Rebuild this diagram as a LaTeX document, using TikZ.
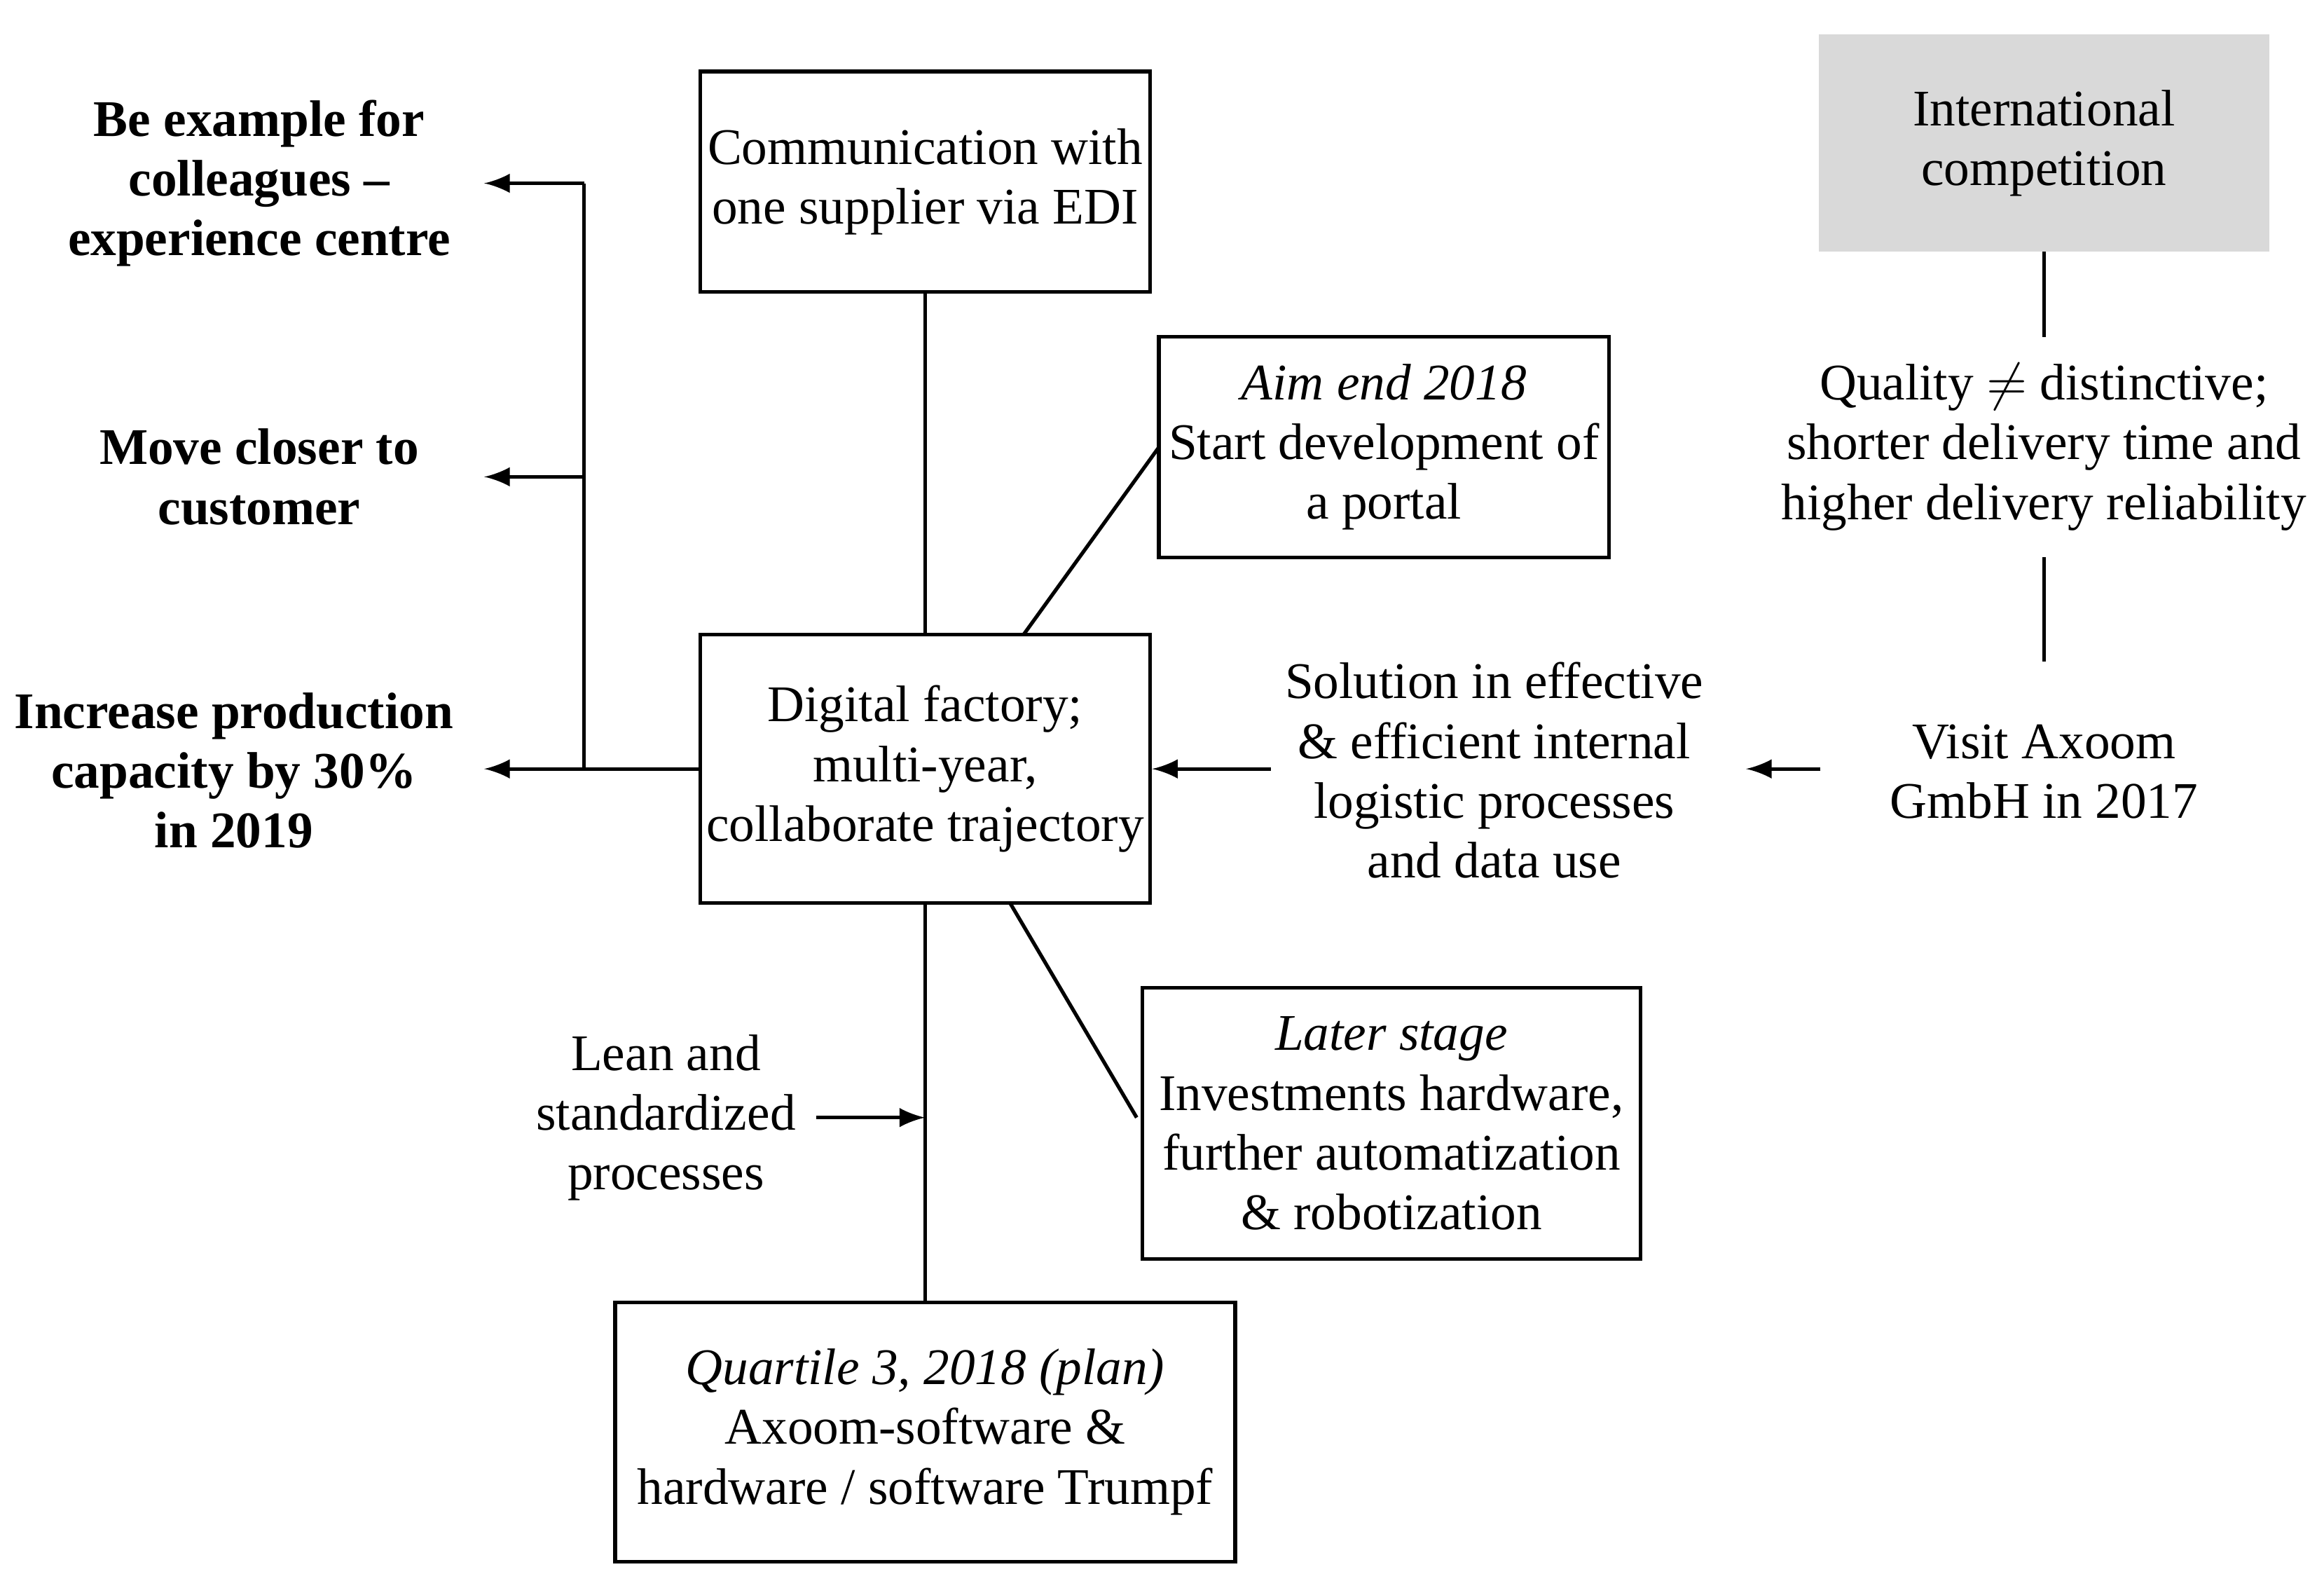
\documentclass[tikz,border=0pt]{standalone}
\usepackage{fontspec}
\setmainfont{Liberation Serif}
\begin{document}
\begin{tikzpicture}[x=0.01cm,y=-0.01cm,
 every node/.style={font=\fontsize{9.8}{11.4}\selectfont},
 box/.style={draw,line width=0.7pt,align=center,inner sep=0pt},
 txt/.style={align=center,inner sep=0pt},
 bt/.style={align=center,inner sep=0pt,font=\fontsize{9.8}{11.4}\selectfont\bfseries},
 ln/.style={line width=0.7pt},
 ar/.style={line width=0.7pt,-latex}]
\useasboundingbox (0,0) rectangle (1560,1061);
\node[box,minimum width=3.02cm,minimum height=1.48cm] (comm) at (621,122) {Communication with\\one supplier via EDI};
\node[box,minimum width=3.02cm,minimum height=1.48cm] (aim) at (929,300) {\textit{Aim end 2018}\\Start development of\\a portal};
\node[box,minimum width=3.02cm,minimum height=1.8cm] (dig) at (621,516) {Digital factory;\\multi-year,\\collaborate trajectory};
\node[box,minimum width=3.34cm,minimum height=1.82cm] (later) at (934,754) {\textit{Later stage}\\Investments hardware,\\further automatization\\\& robotization};
\node[box,minimum width=4.16cm,minimum height=1.74cm] (q) at (621,961) {\textit{Quartile 3, 2018 (plan)}\\Axoom-software \&\\hardware / software Trumpf};
\node[box,draw=none,fill=black!15,minimum width=3.02cm,minimum height=1.46cm] (int) at (1372,96) {International\\competition};
\node[txt] (qual) at (1372,300) {Quality $\neq$ distinctive;\\shorter delivery time and\\higher delivery reliability};
\node[txt] (visit) at (1372,518) {Visit Axoom\\GmbH in 2017};
\node[txt] (sol) at (1003,517) {Solution in effective\\\& efficient internal\\logistic processes\\and data use};
\node[txt] (lean) at (447,750) {Lean and\\standardized\\processes};
\node[bt] (b1) at (174,123) {Be example for\\colleagues --\\experience centre};
\node[bt] (b2) at (174,320) {Move closer to\\customer};
\node[bt] (b3) at (157,517) {Increase production\\capacity by 30\%\\in 2019};
\coordinate (j1) at (392,123); \coordinate (j2) at (392,320); \coordinate (j3) at (392,516);
\coordinate (e1) at (325,123); \coordinate (e2) at (325,320); \coordinate (e3) at (325,516);
\coordinate (lt) at (687,426); \coordinate (la) at (778,300);
\coordinate (lb) at (678,606); \coordinate (lc) at (763,750);
\coordinate (m) at (621,750); \coordinate (ls) at (548,750);
\coordinate (s1) at (853,516); \coordinate (v1) at (1222,516); \coordinate (v2) at (1172,516);
\draw[ln] (comm) -- (dig);
\draw[ln] (lt) -- (la);
\draw[ln] (lb) -- (lc);
\draw[ln] (dig) -- (q);
\draw[ar] (ls) -- (m);
\draw[ln] (1372,169) -- (1372,226);
\draw[ln] (1372,374) -- (1372,444);
\draw[ar] (v1) -- (v2);
\draw[ar] (s1) -- (dig.east);
\draw[ar] (dig.west) -- (e3);
\draw[ln] (j1) -- (j3);
\draw[ar] (j1) -- (e1);
\draw[ar] (j2) -- (e2);
\end{tikzpicture}
\end{document}
